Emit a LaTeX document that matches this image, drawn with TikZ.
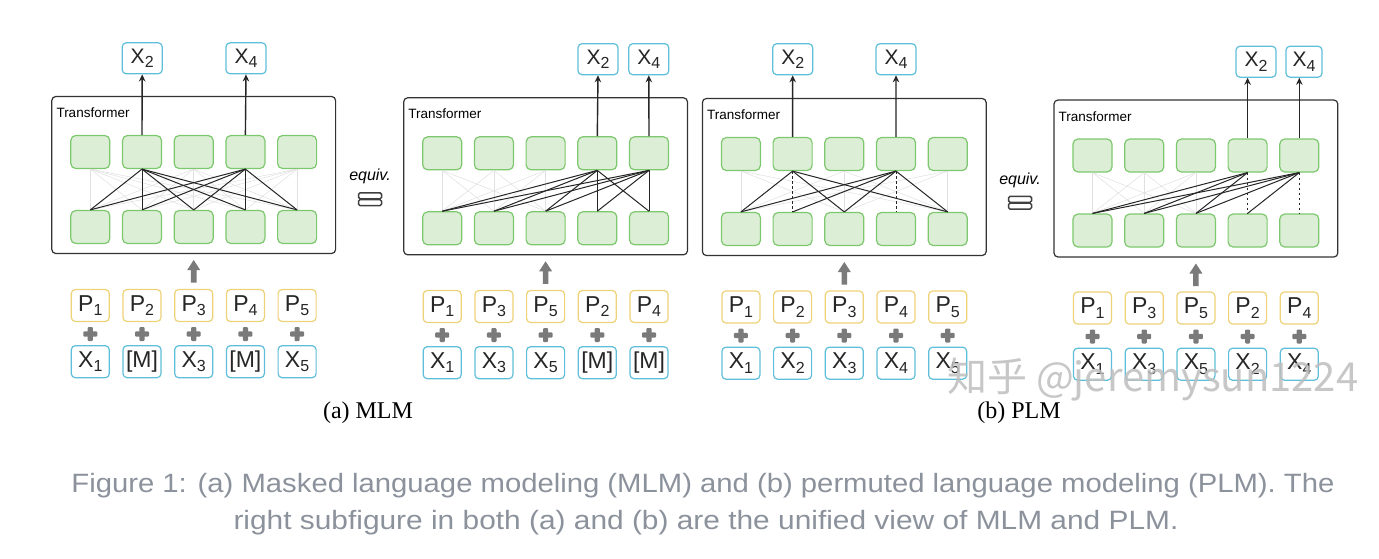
\documentclass[tikz,border=0pt]{standalone}
\usepackage{fontspec}
\setmainfont{Liberation Sans}
\newfontfamily\serifface{Liberation Serif}
\newfontfamily\cjkface{Noto Sans CJK SC}
\usepackage{graphicx}
\usetikzlibrary{arrows.meta}
\definecolor{gfill}{RGB}{221,238,214}
\definecolor{gline}{RGB}{125,200,110}
\definecolor{cyanline}{RGB}{95,190,218}
\definecolor{yelline}{RGB}{238,210,120}
\definecolor{capgray}{RGB}{140,146,156}
\definecolor{plusgray}{RGB}{122,122,122}
\definecolor{wmgray}{RGB}{190,190,190}
\newcommand\tk[2]{#1\raisebox{-4.5pt}{\fontsize{16}{16}\selectfont #2}}
\tikzset{
 tfbox/.style={draw=black!80, line width=1.2pt, rounded corners=4pt, inner sep=0pt},
 hbox/.style={draw=gline, fill=gfill, line width=1.2pt, rounded corners=5pt, minimum width=39pt, minimum height=33pt, inner sep=0pt},
 outbox/.style={draw=cyanline, fill=white, line width=1.2pt, rounded corners=4pt, minimum width=40pt, minimum height=31pt, inner sep=0pt, font=\fontsize{21}{21}\selectfont, text=black!85},
 tokbox/.style={draw=cyanline, fill=white, line width=1.2pt, rounded corners=4pt, minimum width=38pt, minimum height=32pt, inner sep=0pt, font=\fontsize{23}{23}\selectfont, text=black!85},
 posbox/.style={tokbox, draw=yelline},
 conn/.style={line width=1pt, black!85},
 faint/.style={line width=0.5pt, black!12},
 dconn/.style={conn, dash pattern=on 2.5pt off 2.5pt},
 outarrow/.style={line width=1.4pt, black!85, -{Stealth[length=7pt,width=6.5pt]}},
 tflabel/.style={font=\fontsize{13.5}{13.5}\selectfont, anchor=base west, inner sep=0pt},
 eqbar/.style={draw=black!75, line width=1.5pt, rounded corners=1.5pt, minimum width=23pt, minimum height=6pt, inner sep=0pt},
 eqtext/.style={font=\itshape\fontsize{16}{16}\selectfont, inner sep=0pt},
 sublabel/.style={font=\serifface\fontsize{24}{24}\selectfont, anchor=base, inner sep=0pt},
 pics/plussign/.style={code={\fill[plusgray, rounded corners=1pt] (-7,-2.6) rectangle (7,2.6); \fill[plusgray, rounded corners=1pt] (-2.6,-7) rectangle (2.6,7);}},
 pics/uparrow/.style={code={\fill[plusgray] (-2.8,22.5) -- (-2.8,10) -- (-6.5,10) -- (0,0) -- (6.5,10) -- (2.8,10) -- (2.8,22.5) -- cycle;}}
}
\newcommand\mkpanel[3]{%
  \node[tfbox, minimum width=283.8pt, minimum height=157pt] (#1box) at ({#2+103.4},{175+#3}) {};
  \node[tflabel] (#1lab) at ({#2-34},{117.5+#3}) {Transformer};
  \foreach \i in {1,...,5}{
    \node[hbox] (#1t\i) at ({#2+(\i-1)*51.7},{152+#3}) {};
    \node[hbox] (#1b\i) at ({#2+(\i-1)*51.7},{227+#3}) {};
  }
  \pic at ({#2+2*51.7},{260+#3}) {uparrow};
}
\newcommand\mktokens[4]{%
  \foreach \i/\pp/\xx in {#4}{
    \node[posbox] (#1p\i) at ({#2+(\i-1)*51.7},{305.5+#3}) {\tk{P}{\pp}};
    \node[tokbox] (#1x\i) at ({#2+(\i-1)*51.7},{361.7+#3}) {\xx};
    \pic at ({#2+(\i-1)*51.7},{334+#3}) {plussign};
  }
}
\begin{document}
\begin{tikzpicture}[x=1pt,y=-1pt]
\fill[white] (0,0) rectangle (1379,558);
\useasboundingbox (0,0) rectangle (1379,558);

% ---------- panel A (MLM) ----------
\mkpanel{A}{90.3}{0}
\foreach \s in {1,3,5}{\foreach \j in {1,...,5}{\draw[faint] (At\s.south) -- (Ab\j.north);}}
\foreach \s in {2,4}{\foreach \j in {1,...,5}{\draw[conn] (At\s.south) -- (Ab\j.north);}}
\node[outbox] (Ao2) at (142.2,58.3) {\tk{X}{2}};
\node[outbox] (Ao4) at (246,58.3) {\tk{X}{4}};
\draw[outarrow] (At2.north) -- (Ao2.south);
\draw[outarrow] (At4.north) -- (Ao4.south);
\mktokens{A}{90.3}{0}{1/1/{\tk{X}{1}},2/2/{[M]},3/3/{\tk{X}{3}},4/4/{[M]},5/5/{\tk{X}{5}}}

% ---------- panel B (MLM unified) ----------
\mkpanel{B}{442.2}{1.3}
\foreach \s in {1,2,3}{\foreach \j in {1,2,3}{\draw[faint] (Bt\s.south) -- (Bb\j.north);}}
\foreach \s in {4,5}{\foreach \j in {1,...,5}{\draw[conn] (Bt\s.south) -- (Bb\j.north);}}
\node[outbox] (Bo2) at (598,59.2) {\tk{X}{2}};
\node[outbox] (Bo4) at (648.8,59.2) {\tk{X}{4}};
\draw[outarrow] (Bt4.north) -- (Bo2.south);
\draw[outarrow] (Bt5.north) -- (Bo4.south);
\mktokens{B}{442.2}{1}{1/1/{\tk{X}{1}},2/3/{\tk{X}{3}},3/5/{\tk{X}{5}},4/2/{[M]},5/4/{[M]}}

% ---------- panel C (PLM) ----------
\mkpanel{C}{740.9}{2}
\foreach \s in {1,3,5}{\foreach \j in {1,3,5}{\draw[faint] (Ct\s.south) -- (Cb\j.north);}}
\foreach \j in {1,3,5}{\draw[conn] (Ct2.south) -- (Cb\j.north);}
\draw[dconn] (Ct2.south) -- (Cb2.north);
\foreach \j in {1,2,3,5}{\draw[conn] (Ct4.south) -- (Cb\j.north);}
\draw[dconn] (Ct4.south) -- (Cb4.north);
\node[outbox] (Co2) at (792.7,59.2) {\tk{X}{2}};
\node[outbox] (Co4) at (896,59.2) {\tk{X}{4}};
\draw[outarrow] (Ct2.north) -- (Co2.south);
\draw[outarrow] (Ct4.north) -- (Co4.south);
\mktokens{C}{740.9}{1.5}{1/1/{\tk{X}{1}},2/2/{\tk{X}{2}},3/3/{\tk{X}{3}},4/4/{\tk{X}{4}},5/5/{\tk{X}{5}}}

% ---------- panel D (PLM unified) ----------
\mkpanel{D}{1092.5}{3.5}
\foreach \s in {1,2,3}{\foreach \j in {1,2,3}{\draw[faint] (Dt\s.south) -- (Db\j.north);}}
\foreach \j in {1,2,3}{\draw[conn] (Dt4.south) -- (Db\j.north);}
\draw[dconn] (Dt4.south) -- (Db4.north);
\foreach \j in {1,2,3,4}{\draw[conn] (Dt5.south) -- (Db\j.north);}
\draw[dconn] (Dt5.south) -- (Db5.north);
\node[outbox] (Do2) at (1256,61.7) {\tk{X}{2}};
\node[outbox, minimum width=36pt] (Do4) at (1304,61.7) {\tk{X}{4}};
\draw[outarrow] (Dt4.north) -- (Dt4.north |- Do2.south);
\draw[outarrow] (Dt5.north) -- (Dt5.north |- Do4.south);
\mktokens{D}{1092.5}{2.5}{1/1/{\tk{X}{1}},2/3/{\tk{X}{3}},3/5/{\tk{X}{5}},4/2/{\tk{X}{2}},5/4/{\tk{X}{4}}}

% ---------- equiv symbols ----------
\node[eqtext] (eqA) at (370,176.7) {equiv.};
\node[eqbar] (eqA1) at (370,195.8) {};
\node[eqbar] (eqA2) at (370,202.6) {};
\node[eqtext] (eqB) at (1020,180) {equiv.};
\node[eqbar] (eqB1) at (1020,199.3) {};
\node[eqbar] (eqB2) at (1020,206.1) {};

% ---------- sub-labels ----------
\node[sublabel] (labA) at (368,418) {(a) MLM};
\node[sublabel] (labB) at (1019,418) {(b) PLM};

% ---------- watermark ----------
\node[anchor=base west, inner sep=0pt, text=wmgray, opacity=0.85] (wm) at (947,391) {\resizebox{411pt}{!}{\cjkface\fontsize{36}{36}\selectfont 知乎 @jeremysun1224}};

% ---------- caption ----------
\node[anchor=base, inner sep=0pt, text=capgray] (cap1) at (703,492) {\resizebox{1263pt}{\height}{\fontsize{26.5}{30}\selectfont Figure 1: (a) Masked language modeling (MLM) and (b) permuted language modeling (PLM). The}};
\node[anchor=base, inner sep=0pt, text=capgray] (cap2) at (706,529) {\resizebox{945pt}{\height}{\fontsize{26.5}{30}\selectfont right subfigure in both (a) and (b) are the unified view of MLM and PLM.}};
\end{tikzpicture}
\end{document}
